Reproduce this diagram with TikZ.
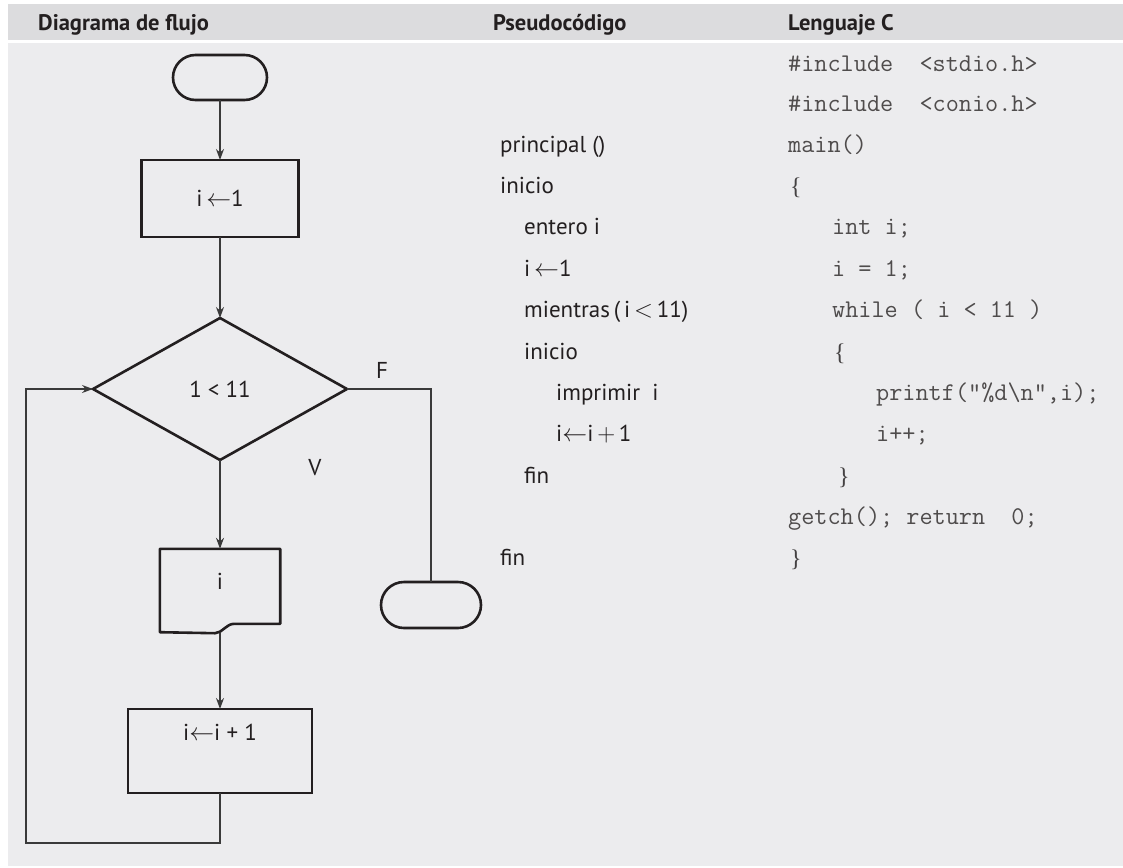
\documentclass[tikz,border=0pt]{standalone}
\usepackage{fontspec}
\setmainfont{PT Sans}
\newfontfamily\bracefont{Liberation Serif}
\usetikzlibrary{arrows.meta,shapes.geometric,calc}
\definecolor{hdr}{HTML}{DCDCDE}
\definecolor{bodybg}{HTML}{ECECEE}
\definecolor{ink}{HTML}{231F20}
\definecolor{wire}{HTML}{3A3A3A}
\begin{document}
\begin{tikzpicture}[x=1pt,y=-1pt,
  flowbox/.style={draw=ink,line width=2.6pt,outer sep=0pt},
  conn/.style={draw=wire,line width=1.3pt},
  arr/.style={conn,-{Stealth[length=11pt,width=8pt]}},
  lbl/.style={font=\fontsize{23}{27}\selectfont,text=ink,inner sep=0pt},
  ps/.style={lbl,anchor=base west},
  cd/.style={font=\ttfamily\fontsize{25.5}{29}\selectfont,text=ink!80,inner sep=0pt,anchor=base west},
  br/.style={font=\bracefont\fontsize{24}{28}\selectfont,text=ink!85,inner sep=0pt,anchor=base west},
  hd/.style={font=\bfseries\fontsize{22.5}{26}\selectfont,text=ink,inner sep=0pt,anchor=base west}
]
\useasboundingbox (0,0) rectangle (1123,867);
\fill[white] (0,0) rectangle (1123,867);
\fill[hdr] (8,4) rectangle (1123,40);
\fill[bodybg] (8,43) rectangle (1123,866);

% headers
\node[hd] (h1) at (38,31) {Diagrama de flujo};
\node[hd] (h2) at (493,31) {Pseudocódigo};
\node[hd] (h3) at (788,31) {Lenguaje C};

% flowchart
\node[flowbox,rectangle,rounded corners=22.5pt,minimum width=94pt,minimum height=45pt] (start) at (220,77.5) {};
\node[flowbox,lbl,rectangle,minimum width=157pt,minimum height=77pt] (init) at (220,198.5) {i\,$\leftarrow$1};
\node[flowbox,lbl,diamond,minimum width=254pt,minimum height=142pt] (cond) at (220,389) {1 < 11};
\node[lbl,rectangle,minimum width=120pt,minimum height=84pt] (doc) at (220,591) {\raisebox{1.5pt}[0pt][0pt]{i}};
\draw[flowbox,line join=round] (doc.north west) -- (doc.north east) -- ($(doc.north east)+(0,75)$)
  -- ($(doc.north east)+(-46,75)$) .. controls ($(doc.north east)+(-54,75)$) and ($(doc.south)+(2,0)$) .. ($(doc.south)+(-5,0)$)
  -- ($(doc.south west)+(0,-1)$) -- cycle;
\node[flowbox,lbl,rectangle,minimum width=184pt,minimum height=84pt] (upd) at (220,751) {\raisebox{10.5pt}[0pt][0pt]{i$\leftarrow$i + 1}};
\node[flowbox,rectangle,rounded corners=23pt,minimum width=100pt,minimum height=46pt] (stop) at (431,605) {};
\node[lbl] (flab) at (382,370) {F};
\node[lbl] (vlab) at (315,468) {V};
\coordinate (loop) at (26,843);

\draw[arr] (start) -- (init);
\draw[arr] (init) -- (cond);
\draw[arr] (cond) -- (doc);
\draw[arr] (doc.south) -- (upd);
\draw[conn] (cond.east) -- (cond.east -| stop) -- (stop.north);
\draw[arr] (upd.south) |- (loop) |- (cond.west);

% pseudocode
\node[ps] (p3) at (500,152.2) {principal ()};
\node[ps] (p4) at (500,193.5) {inicio};
\node[ps] (p5) at (524,234.9) {entero i};
\node[ps] (p6) at (524,276.3) {i\,$\leftarrow$1};
\node[ps] (p7) at (524,317.5) {mientras\,(\,i\,$<$\,11)};
\node[ps] (p8) at (524,359) {inicio};
\node[ps] (p9) at (556,400.3) {imprimir\ \ i};
\node[ps] (p10) at (556,441.5) {i$\leftarrow$i\,$+$\,1};
\node[ps] (p11) at (524,483) {fin};
\node[ps] (p13) at (500,565.7) {fin};

% C code
\node[cd] (c1) at (788,71) {\#include\ \ <stdio.h>};
\node[cd] (c2) at (788,111.5) {\#include\ \ <conio.h>};
\node[cd] (c3) at (788,152.2) {main()};
\node[br] (c4) at (790,194.5) {\{};
\node[cd] (c5) at (832,234.9) {int i;};
\node[cd] (c6) at (832,276.3) {i = 1;};
\node[cd] (c7) at (832,317.5) {while ( i < 11 )};
\node[br] (c8) at (834,360) {\{};
\node[cd] (c9) at (876,400.3) {printf("\%d\textbackslash{}n",i);};
\node[cd] (c10) at (876,441.5) {i++;};
\node[br] (c11) at (838,484) {\}};
\node[cd] (c12) at (788,524.4) {getch(); return\ \ 0;};
\node[br] (c13) at (790,566.7) {\}};
\end{tikzpicture}
\end{document}
